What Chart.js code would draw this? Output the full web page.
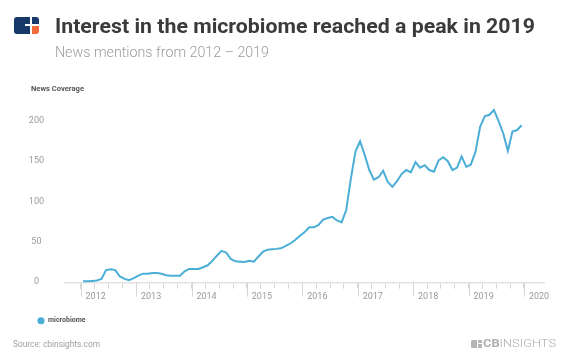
<!DOCTYPE html>
<html>
<head>
<meta charset="utf-8">
<script src="https://cdn.jsdelivr.net/npm/chart.js@4/dist/chart.umd.min.js"></script>
<style>
  body { margin: 0; width: 572px; height: 364px; overflow: hidden; background: #fff; position: relative; font-family: Roboto, sans-serif; }
  #chart { position: absolute; left: 0; top: 0; }
  .fit { position: absolute; white-space: nowrap; transform-origin: 0 0; }
  .blk { position: absolute; }
</style>
</head>
<body>
<canvas id="chart" width="572" height="364"></canvas>

<!-- header logo -->
<div class="blk" style="left:14px;top:17px;width:16px;height:17px;background:#16396a;border-radius:3px 0 0 3px"></div>
<div class="blk" style="left:25px;top:24.3px;width:5px;height:1.8px;background:#fff"></div>
<div class="blk" style="left:31.6px;top:17px;width:7.6px;height:7.3px;background:#16396a;border-radius:0 3px 0 0"></div>
<div class="blk" style="left:31.6px;top:26.2px;width:7.6px;height:7.8px;background:#f26a36;border-radius:0 0 3px 0"></div>

<div class="fit" data-w="480" style="left:55px;top:15.6px;font-size:21px;line-height:21px;font-weight:700;color:#3b3b3b">Interest in the microbiome reached a peak in 2019</div>
<div class="fit" data-w="214" style="left:55px;top:45.3px;font-size:15.5px;line-height:15.5px;font-weight:300;color:#9b9b9b">News mentions from 2012 – 2019</div>
<div class="fit" data-w="53" style="left:31px;top:85.3px;font-size:7.5px;line-height:7.5px;font-weight:700;color:#555">News Coverage</div>

<div class="fit" data-w="87" style="left:13.3px;top:339.3px;font-size:9.5px;line-height:9.5px;color:#a0a0a0">Source: cbinsights.com</div>

<!-- footer logo -->
<div class="blk" style="left:471px;top:339.5px;width:6px;height:8px;background:#b5b5b5;border-radius:1.5px 0 0 1.5px"></div>
<div class="blk" style="left:478px;top:339.5px;width:3.5px;height:3.5px;background:#b5b5b5"></div>
<div class="blk" style="left:478px;top:344px;width:3.5px;height:3.5px;background:#b5b5b5"></div>
<div class="fit" data-w="73" style="left:483px;top:338px;font-size:11px;line-height:11px;color:#adadad"><b>CB</b><span style="font-weight:300">INSIGHTS</span></div>

<script>
// monthly news mentions, Jan 2012 .. Dec 2019
const startYear = 2012;
const coverage = [
  0, 0, 0.5, 1, 3, 14, 15, 14, 6, 3, 1.5, 4,
  7, 9.5, 9.5, 10.5, 10.5, 9.5, 7.5, 7, 7, 7, 12.5, 15.5,
  15.5, 15.5, 17.5, 20, 25.5, 32, 38, 36, 28, 25, 24.5, 24,
  25.5, 24.5, 31, 37, 39.5, 40, 40.5, 41.5, 44.5, 47.5, 52, 57,
  61.5, 67.5, 67.5, 70.5, 77, 79, 80.5, 76, 73.5, 89, 128, 162,
  175, 158, 139, 127, 130, 138, 124, 118, 125, 134, 139, 136,
  149, 142, 145, 139, 137, 151, 155, 150, 139, 142, 156, 143,
  146, 162, 193, 206, 208, 214, 200, 185, 163, 187, 189, 195
];
const seriesName = 'microbiome';
const yearTicks = [2012, 2013, 2014, 2015, 2016, 2017, 2018, 2019, 2020];
const yTicks = [0, 50, 100, 150, 200];

const lineColor = '#4aaed6';
const tickFont = { family: "'Liberation Sans Narrow', Roboto, sans-serif", size: 9 };

const points = coverage.map((v, i) => ({ x: startYear + (i + 0.5) / 12, y: v }));
const quarterTicks = [];
yearTicks.forEach(yr => {
  for (let q = 0; q < 4; q++) {
    const v = yr + q / 4;
    if (v <= yearTicks[yearTicks.length - 1]) quarterTicks.push(v);
  }
});

// longer tick marks on the year boundaries
const majorTicks = {
  id: 'majorTicks',
  afterDraw(chart) {
    const sx = chart.scales.x;
    const ctx = chart.ctx;
    ctx.save();
    ctx.strokeStyle = '#d6d6d6';
    ctx.lineWidth = 1;
    yearTicks.forEach(yr => {
      const px = Math.round(sx.getPixelForValue(yr)) + 0.5;
      ctx.beginPath();
      ctx.moveTo(px, sx.top);
      ctx.lineTo(px, sx.top + 14);
      ctx.stroke();
    });
    ctx.restore();
  }
};

new Chart(document.getElementById('chart'), {
  type: 'line',
  data: {
    datasets: [{
      label: seriesName,
      data: points,
      borderColor: lineColor,
      backgroundColor: lineColor,
      borderWidth: 2,
      pointRadius: 0,
      tension: 0,
      fill: false
    }]
  },
  options: {
    responsive: false,
    animation: false,
    devicePixelRatio: 1,
    layout: { padding: { top: 100, left: 27.5, right: 28, bottom: 29.8 } },
    plugins: {
      tooltip: { enabled: false },
      legend: {
        position: 'bottom',
        align: 'start',
        labels: {
          usePointStyle: true,
          pointStyle: 'circle',
          boxWidth: 7,
          boxHeight: 5,
          padding: 10,
          color: '#555',
          font: { family: 'Roboto', size: 7, weight: 'bold' },
          generateLabels: chart => Chart.defaults.plugins.legend.labels.generateLabels(chart)
            .map(l => Object.assign(l, { lineWidth: 0 }))
        }
      }
    },
    scales: {
      x: {
        type: 'linear',
        min: 2011.717,
        max: 2020.361,
        afterBuildTicks: s => { s.ticks = quarterTicks.map(v => ({ value: v })); },
        afterFit: s => { s.height = 24.5; },
        grid: { display: true, drawOnChartArea: false, drawTicks: true, tickLength: 6, tickColor: '#d6d6d6', lineWidth: 1 },
        border: { display: true, color: '#e2e2e2', width: 1.5 },
        ticks: {
          autoSkip: false,
          maxRotation: 0,
          padding: 3,
          labelOffset: 15,
          color: '#9a9a9a',
          font: tickFont,
          callback: v => Number.isInteger(v) ? String(v) : ''
        }
      },
      y: {
        min: -1.75,
        max: 226.5,
        afterBuildTicks: s => { s.ticks = yTicks.map(v => ({ value: v })); },
        afterFit: s => { s.width = 37.5; },
        grid: { display: false, drawTicks: false },
        border: { display: false },
        ticks: { crossAlign: 'center', padding: 21, color: '#9a9a9a', font: tickFont }
      }
    }
  },
  plugins: [majorTicks]
});

// squeeze header/footer text to the condensed widths of the original
function fitText() {
  document.querySelectorAll('.fit').forEach(el => {
    el.style.transform = 'none';
    const w = el.getBoundingClientRect().width;
    el.style.transform = 'scaleX(' + (parseFloat(el.dataset.w) / w) + ')';
  });
}
fitText();
if (document.fonts) document.fonts.ready.then(fitText);
</script>
</body>
</html>
